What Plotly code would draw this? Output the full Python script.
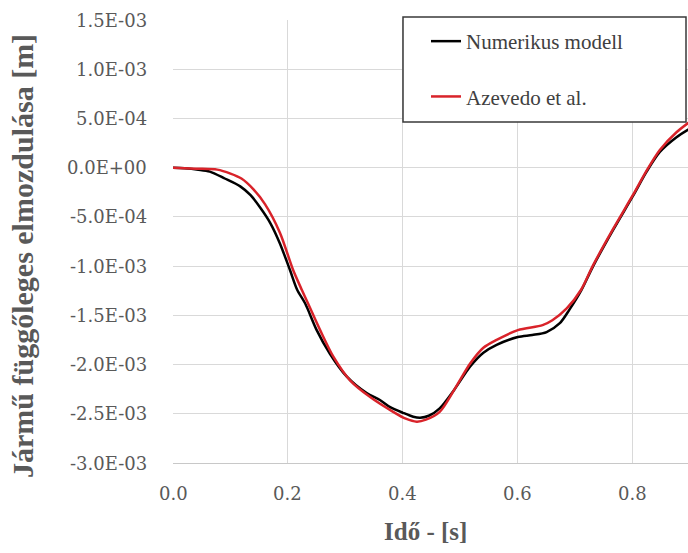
import plotly.graph_objects as go

# Data (displacement in metres)
t_num = [0, 0.02, 0.044, 0.064, 0.09, 0.117, 0.135, 0.151, 0.17, 0.186, 0.2035, 0.216, 0.23, 0.25,
         0.273, 0.302, 0.337, 0.36, 0.377, 0.4, 0.418, 0.43, 0.445, 0.464, 0.49, 0.517, 0.54, 0.563,
         0.6, 0.625, 0.65, 0.673, 0.69, 0.71, 0.731, 0.766, 0.8, 0.824, 0.847, 0.876, 0.9]
y_num_mm = [0, -0.005, -0.02, -0.04, -0.11, -0.19, -0.28, -0.40, -0.57, -0.77, -1.04, -1.24, -1.38, -1.65,
            -1.89, -2.12, -2.29, -2.36, -2.43, -2.49, -2.53, -2.54, -2.52, -2.445, -2.25, -2.02, -1.88, -1.80,
            -1.72, -1.70, -1.67, -1.58, -1.44, -1.25, -1.0, -0.63, -0.29, -0.04, 0.16, 0.31, 0.40]

t_aze = [0, 0.04, 0.077, 0.1, 0.119, 0.14, 0.16, 0.186, 0.209, 0.224, 0.235, 0.256, 0.279, 0.308,
         0.343, 0.383, 0.405, 0.424, 0.44, 0.464, 0.49, 0.517, 0.54, 0.563, 0.6, 0.643, 0.66, 0.685,
         0.71, 0.731, 0.766, 0.8, 0.824, 0.847, 0.876, 0.9]
y_aze_mm = [0, -0.01, -0.02, -0.06, -0.11, -0.22, -0.37, -0.66, -1.04, -1.24, -1.38, -1.65, -1.92, -2.16,
            -2.33, -2.48, -2.55, -2.58, -2.56, -2.48, -2.25, -1.99, -1.83, -1.75, -1.65, -1.60, -1.55, -1.43,
            -1.24, -0.99, -0.62, -0.28, -0.03, 0.18, 0.36, 0.47]

y_tickvals = [1.5e-3, 1.0e-3, 5.0e-4, 0.0, -5.0e-4, -1.0e-3, -1.5e-3, -2.0e-3, -2.5e-3, -3.0e-3]
y_ticktext = ["1.5E-03", "1.0E-03", "5.0E-04", "0.0E+00", "-5.0E-04", "-1.0E-03",
              "-1.5E-03", "-2.0E-03", "-2.5E-03", "-3.0E-03"]
x_tickvals = [0.0, 0.2, 0.4, 0.6, 0.8]
x_ticktext = ["0.0", "0.2", "0.4", "0.6", "0.8"]

y_num = [v * 1e-3 for v in y_num_mm]
y_aze = [v * 1e-3 for v in y_aze_mm]

FONT = "Liberation Serif"
TICKFONT = "DejaVu Serif"
GRAY = "#595959"

fig = go.Figure()
fig.add_trace(go.Scatter(x=t_num, y=y_num, mode="lines", name="Numerikus modell",
                         line=dict(color="#000000", width=2.5, shape="spline", smoothing=0.8),
                         legendgroup="a"))
fig.add_trace(go.Scatter(x=t_aze, y=y_aze, mode="lines", name="Azevedo et al.",
                         line=dict(color="#d9232a", width=2.5, shape="spline", smoothing=0.8),
                         legendgroup="b"))

L, T, B = 173, 20, 90
W, H = 688, 553
pw, ph = W - L, H - T - B

def px_x(p):
    return (p - L) / pw

def px_y(p):
    return (H - B - p) / ph

# tick labels as serif text placed through the axes' own scales
tick_ann = []
for v, s in zip(y_tickvals, y_ticktext):
    tick_ann.append(dict(text=s, xref="paper", yref="y", x=px_x(149), y=v,
                         xanchor="right", yanchor="middle", showarrow=False,
                         font=dict(family=TICKFONT, size=18, color=GRAY)))
for v, s in zip(x_tickvals, x_ticktext):
    tick_ann.append(dict(text=s, xref="x", yref="paper", x=v, y=px_y(493),
                         xanchor="center", yanchor="middle", showarrow=False,
                         font=dict(family=TICKFONT, size=18, color=GRAY)))

fig.update_layout(
    width=W, height=H,
    margin=dict(l=L, r=0, t=T, b=B, pad=0),
    paper_bgcolor="white", plot_bgcolor="white",
    showlegend=True,
    legend=dict(x=px_x(426), y=px_y(21), xanchor="left", yanchor="top",
                bgcolor="rgba(0,0,0,0)", borderwidth=0,
                font=dict(family=FONT, size=21, color="#404040"),
                traceorder="grouped", tracegroupgap=25),
    xaxis=dict(range=[0, 0.896], tickvals=x_tickvals, showticklabels=False,
               showgrid=True, gridcolor="#d9d9d9", gridwidth=1.3,
               zeroline=False, showline=True, linecolor="#c8c8c8", linewidth=1.3,
               ticks=""),
    yaxis=dict(range=[-3.0e-3, 1.5e-3], tickvals=y_tickvals, showticklabels=False,
               showgrid=True, gridcolor="#d9d9d9", gridwidth=1.3,
               zeroline=False, showline=False, ticks=""),
    shapes=[dict(type="rect", xref="paper", yref="paper", layer="above",
                 x0=px_x(403), x1=px_x(686), y0=px_y(122), y1=px_y(17),
                 fillcolor="white", line=dict(color="#3a3a3a", width=1.5))],
    annotations=tick_ann + [
        dict(text="<b>Idő - [s]</b>", xref="paper", yref="paper",
             x=px_x(425), y=px_y(531), xanchor="center", yanchor="middle",
             showarrow=False, font=dict(family=FONT, size=25, color=GRAY)),
        dict(text="<b>Jármű függőleges elmozdulása [m]</b>", xref="paper", yref="paper",
             x=px_x(22), y=px_y(256), xanchor="center", yanchor="middle", textangle=-90,
             showarrow=False, font=dict(family=FONT, size=30, color=GRAY)),
    ],
)

fig.write_html("out.html")
